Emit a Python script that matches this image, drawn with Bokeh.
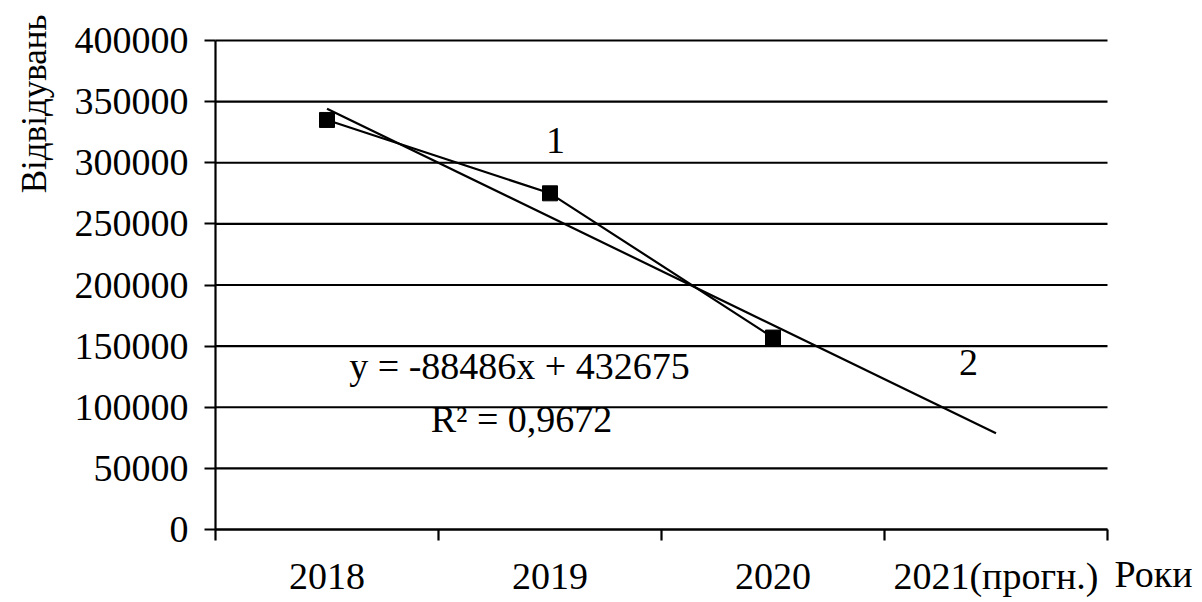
from bokeh.plotting import figure
from bokeh.models import FixedTicker, Label, ColumnDataSource
from bokeh.embed import file_html
from bokeh.resources import INLINE
from math import pi

# ---- data ----
categories = ["2018", "2019", "2020", "2021(прогн.)"]
cat_pos = [1, 2, 3, 4]
cat_edges = [0.5, 1.5, 2.5, 3.5, 4.5]
visits = [335000, 275000, 157000]
trend_slope = -88486
trend_intercept = 432675
trend_x = [1, 4]
y_ticks = [0, 50000, 100000, 150000, 200000, 250000, 300000, 350000, 400000]
equation_text = "y = -88486x + 432675"
r2_text = "R² = 0,9672"

FONT = "Liberation Serif"
FS = "38px"

# layout (pixels): plot area spans x 215..1107, y 40..529 on a 1200x600 canvas
W, H = 1200, 600
PX_LEFT, PX_RIGHT, PX_TOP, PX_BOTTOM = 215, 1107, 40, 529
ux = (PX_RIGHT - PX_LEFT) / (cat_edges[-1] - cat_edges[0])
uy = (PX_BOTTOM - PX_TOP) / (y_ticks[-1] - y_ticks[0])
x_start = cat_edges[0] - PX_LEFT / ux
x_end = cat_edges[0] + (W - PX_LEFT) / ux
y_end = y_ticks[-1] + PX_TOP / uy
y_start = y_ticks[0] - (H - PX_BOTTOM) / uy

def dx(px):
    return cat_edges[0] + (px - PX_LEFT) / ux

def dy(py):
    return y_ticks[0] + (PX_BOTTOM - py) / uy

p = figure(frame_width=W, frame_height=H,
           x_range=(x_start, x_end), y_range=(y_start, y_end),
           output_backend="svg", toolbar_location=None,
           min_border=0, min_border_left=0, min_border_right=0,
           min_border_top=0, min_border_bottom=0)
p.outline_line_color = None
p.background_fill_color = "white"
p.border_fill_color = "white"
p.xgrid.grid_line_color = None
p.ygrid.grid_line_color = None

# horizontal grid lines across the plot area
p.segment(x0=[cat_edges[0]] * len(y_ticks), y0=y_ticks,
          x1=[cat_edges[-1]] * len(y_ticks), y1=y_ticks,
          line_color="black", line_width=2.2)

# y axis
yax = p.yaxis[0]
yax.fixed_location = cat_edges[0]
yax.bounds = (y_ticks[0], y_ticks[-1])
yax.ticker = FixedTicker(ticks=y_ticks)
yax.formatter.use_scientific = False
yax.minor_tick_line_color = None
yax.major_tick_out = 11
yax.major_tick_in = 0
yax.major_tick_line_width = 2.2
yax.axis_line_width = 2.2
yax.axis_line_color = "black"
yax.major_tick_line_color = "black"
yax.major_label_text_font = FONT
yax.major_label_text_font_size = FS
yax.major_label_text_color = "black"
yax.major_label_standoff = 16

# x axis
xax = p.xaxis[0]
xax.fixed_location = y_ticks[0]
xax.bounds = (cat_edges[0], cat_edges[-1])
xax.ticker = FixedTicker(ticks=cat_pos, minor_ticks=cat_edges)
xax.major_label_overrides = {c: l for c, l in zip(cat_pos, categories)}
xax.major_tick_line_color = None
xax.major_tick_out = 11
xax.minor_tick_out = 11
xax.minor_tick_in = 0
xax.minor_tick_line_width = 2.2
xax.minor_tick_line_color = "black"
xax.axis_line_width = 2.2
xax.axis_line_color = "black"
xax.major_label_text_font = FONT
xax.major_label_text_font_size = FS
xax.major_label_text_color = "black"
xax.major_label_standoff = 14

# data line + markers
src = ColumnDataSource(dict(x=cat_pos[:len(visits)], y=visits))
p.line("x", "y", source=src, line_color="black", line_width=2.2)
p.scatter("x", "y", source=src, marker="square", size=15,
          fill_color="black", line_color="black")

# trend line
ty = [trend_slope * x + trend_intercept for x in trend_x]
p.line(trend_x, ty, line_color="black", line_width=2.2)

def lab(x, y, t, align="center", baseline="middle", angle=0, size=FS):
    p.add_layout(Label(x=x, y=y, text=t, text_font=FONT, text_font_size=size,
                       text_color="black", text_align=align,
                       text_baseline=baseline, angle=angle))

lab(dx(555), dy(140), "1")
lab(dx(968), dy(362), "2")
lab(dx(519), dy(365), equation_text)
lab(dx(521), dy(418), r2_text)
# axis titles
lab(dx(34), dy(14), "Відвідувань", align="right", angle=pi / 2, size="35px")
lab(dx(1114), dy(573), "Роки", align="left")

open("out.html", "w").write(file_html(p, INLINE))
